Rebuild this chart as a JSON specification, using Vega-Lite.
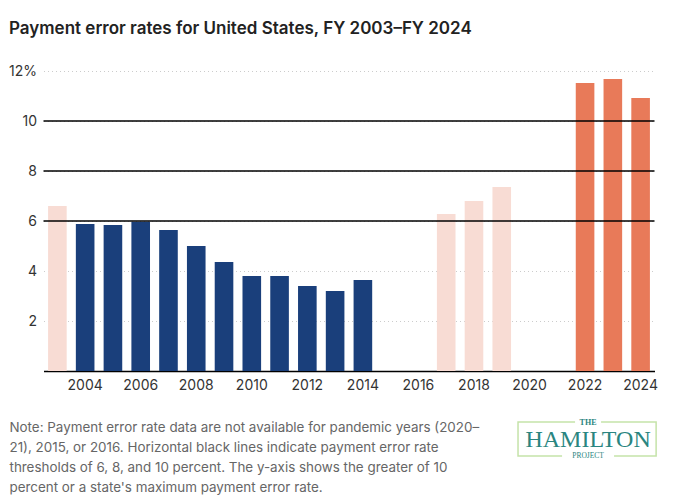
{
  "$schema": "https://vega.github.io/schema/vega-lite/v6.json",
  "width": 611,
  "height": 300,
  "autosize": {"type": "none"},
  "padding": {"left": 43.5, "top": 71, "right": 24.5, "bottom": 133},
  "background": "white",
  "config": {"font": "Inter", "view": {"stroke": null}},
  "title": {
    "text": "Payment error rates for United States, FY 2003–FY 2024",
    "anchor": "start",
    "frame": "group",
    "dx": -34.5,
    "offset": 26,
    "fontSize": 17,
    "fontWeight": 600,
    "color": "#222222"
  },
  "datasets": {
    "rates": [
      {"year": 2003, "rate": 6.6, "group": "pale"},
      {"year": 2004, "rate": 5.88, "group": "blue"},
      {"year": 2005, "rate": 5.84, "group": "blue"},
      {"year": 2006, "rate": 5.97, "group": "blue"},
      {"year": 2007, "rate": 5.64, "group": "blue"},
      {"year": 2008, "rate": 5.0, "group": "blue"},
      {"year": 2009, "rate": 4.36, "group": "blue"},
      {"year": 2010, "rate": 3.8, "group": "blue"},
      {"year": 2011, "rate": 3.8, "group": "blue"},
      {"year": 2012, "rate": 3.4, "group": "blue"},
      {"year": 2013, "rate": 3.2, "group": "blue"},
      {"year": 2014, "rate": 3.64, "group": "blue"},
      {"year": 2017, "rate": 6.28, "group": "pale"},
      {"year": 2018, "rate": 6.8, "group": "pale"},
      {"year": 2019, "rate": 7.36, "group": "pale"},
      {"year": 2022, "rate": 11.52, "group": "orange"},
      {"year": 2023, "rate": 11.68, "group": "orange"},
      {"year": 2024, "rate": 10.92, "group": "orange"}
    ],
    "thresholds": [{"threshold": 6}, {"threshold": 8}, {"threshold": 10}],
    "logo": [
      {"label": "THE", "part": "top"},
      {"label": "HAMILTON", "part": "main"},
      {"label": "PROJECT", "part": "bottom"}
    ]
  },
  "layer": [
    {
      "data": {"name": "rates"},
      "mark": {"type": "bar"},
      "encoding": {
        "x": {
          "field": "year",
          "type": "ordinal",
          "scale": {
            "domain": [2003, 2004, 2005, 2006, 2007, 2008, 2009, 2010, 2011, 2012, 2013, 2014, 2015, 2016, 2017, 2018, 2019, 2020, 2021, 2022, 2023, 2024],
            "paddingInner": 0.33,
            "paddingOuter": 0.165
          },
          "axis": {
            "values": [2004, 2006, 2008, 2010, 2012, 2014, 2016, 2018, 2020, 2022, 2024],
            "labelAngle": 0,
            "labelFontSize": 14,
            "labelColor": "#333333",
            "labelPadding": 7,
            "ticks": false,
            "domainColor": "#000000",
            "domainWidth": 1.5,
            "title": [
              "Note: Payment error rate data are not available for pandemic years (2020–",
              "21), 2015, or 2016. Horizontal black lines indicate payment error rate",
              "thresholds of 6, 8, and 10 percent. The y-axis shows the greater of 10",
              "percent or a state's maximum payment error rate."
            ],
            "titleAnchor": "start",
            "titleAlign": "left",
            "titleBaseline": "top",
            "titleX": -34.5,
            "titleY": 49,
            "titleFontSize": 13.4,
            "titleFontWeight": "normal",
            "titleColor": "#666666",
            "titleLineHeight": 20
          }
        },
        "y": {
          "field": "rate",
          "type": "quantitative",
          "scale": {"domain": [0, 12]},
          "axis": {
            "values": [2, 4, 6, 8, 10, 12],
            "labelExpr": "datum.value == 12 ? '12%' : datum.label",
            "labelFontSize": 14,
            "labelColor": "#333333",
            "labelPadding": 7,
            "ticks": false,
            "domain": false,
            "gridColor": "#cccccc",
            "gridDash": [1, 3],
            "gridWidth": 1,
            "title": null
          }
        },
        "color": {
          "field": "group",
          "type": "nominal",
          "scale": {"domain": ["pale", "blue", "orange"], "range": ["#F8DCD4", "#1A3F7B", "#E87A59"]},
          "legend": null
        }
      }
    },
    {
      "data": {"name": "thresholds"},
      "mark": {"type": "rule", "color": "#000000", "strokeWidth": 1.5},
      "encoding": {
        "y": {"field": "threshold", "type": "quantitative"}
      }
    },
    {
      "data": {"name": "logo"},
      "transform": [{"filter": "datum.part == 'main'"}],
      "mark": {"type": "rect", "fill": null, "fillOpacity": 0, "stroke": "#C5E3A9", "strokeWidth": 1.5, "xOffset": -11.5, "x2Offset": 15.5},
      "encoding": {
        "x": {"datum": 2020, "type": "ordinal"},
        "x2": {"datum": 2024},
        "y": {"datum": -2.04, "type": "quantitative"},
        "y2": {"datum": -3.4}
      }
    },
    {
      "data": {"name": "logo"},
      "transform": [{"filter": "datum.part == 'top'"}],
      "mark": {"type": "rect", "fill": "white", "xOffset": -10, "x2Offset": 16},
      "encoding": {
        "x": {"datum": 2022, "type": "ordinal"},
        "x2": {"datum": 2022},
        "y": {"datum": -1.9, "type": "quantitative"},
        "y2": {"datum": -2.2}
      }
    },
    {
      "data": {"name": "logo"},
      "transform": [{"filter": "datum.part == 'bottom'"}],
      "mark": {"type": "rect", "fill": "white", "xOffset": -23, "x2Offset": 29},
      "encoding": {
        "x": {"datum": 2022, "type": "ordinal"},
        "x2": {"datum": 2022},
        "y": {"datum": -3.25, "type": "quantitative"},
        "y2": {"datum": -3.55}
      }
    },
    {
      "data": {"name": "logo"},
      "transform": [{"filter": "datum.part == 'main'"}],
      "mark": {"type": "text", "font": "Liberation Serif", "fontSize": 24, "color": "#2A8580", "baseline": "middle", "align": "center", "xOffset": 3, "dy": 1},
      "encoding": {
        "x": {"datum": 2022, "type": "ordinal"},
        "y": {"datum": -2.72, "type": "quantitative"},
        "text": {"field": "label"}
      }
    },
    {
      "data": {"name": "logo"},
      "transform": [{"filter": "datum.part == 'top'"}],
      "mark": {"type": "text", "font": "Liberation Serif", "fontSize": 8, "fontWeight": "bold", "color": "#2A8580", "baseline": "middle", "align": "center", "xOffset": 3},
      "encoding": {
        "x": {"datum": 2022, "type": "ordinal"},
        "y": {"datum": -2.08, "type": "quantitative"},
        "text": {"field": "label"}
      }
    },
    {
      "data": {"name": "logo"},
      "transform": [{"filter": "datum.part == 'bottom'"}],
      "mark": {"type": "text", "font": "Liberation Serif", "fontSize": 7.5, "color": "#2A8580", "baseline": "middle", "align": "center", "xOffset": 3},
      "encoding": {
        "x": {"datum": 2022, "type": "ordinal"},
        "y": {"datum": -3.4, "type": "quantitative"},
        "text": {"field": "label"}
      }
    }
  ]
}
